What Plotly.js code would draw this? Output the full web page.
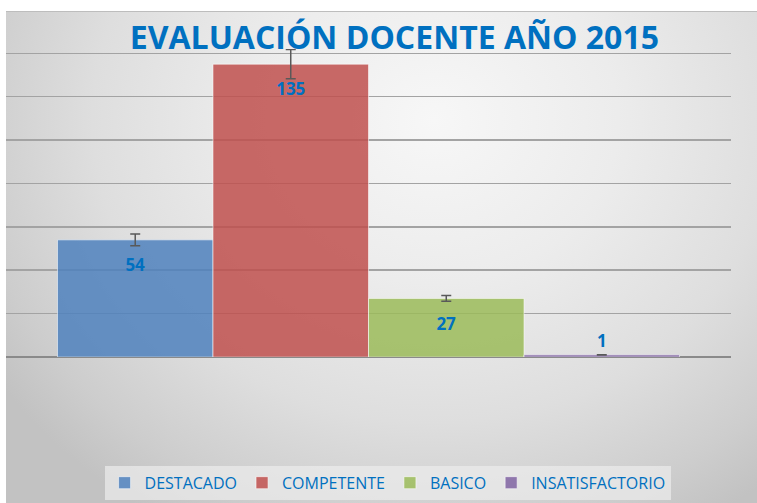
<!DOCTYPE html>
<html>
<head>
<meta charset="utf-8">
<script src="https://cdn.plot.ly/plotly-3.0.1.min.js"></script>
<style>
  html, body { margin: 0; padding: 0; background: #ffffff; }
  #wrap { position: relative; width: 757px; height: 503px; background: #ffffff; overflow: hidden; }
  #bg { position: absolute; left: 6px; top: 11px; right: 0; bottom: 0;
        border-top: 1px solid #bdbdbd;
        background: radial-gradient(ellipse 70% 95% at 57% 22%, #f7f7f7 0%, #ececec 35%, #dedede 65%, #cdcdcd 88%, #c2c2c2 100%); }
  #chart { position: absolute; left: 0; top: 0; width: 757px; height: 503px; }
</style>
</head>
<body>
<div id="wrap"><div id="bg"></div><div id="chart"></div></div>
<script>
const chartTitle = 'EVALUACIÓN DOCENTE AÑO 2015';
const group = ['2015'];
const categories = ['DESTACADO', 'COMPETENTE', 'BASICO', 'INSATISFACTORIO'];
const values = [54, 135, 27, 1];
const colors = ['rgba(79,129,189,0.85)', 'rgba(192,80,77,0.85)', 'rgba(155,187,89,0.85)', 'rgba(128,100,162,0.85)'];
const errorPercent = 5;

const labelBlue = '#0070C0';
const labelFont = { family: 'Open Sans', size: 17, color: labelBlue, weight: 'bold' };

const traces = categories.map((name, i) => ({
  type: 'bar',
  name: name,
  x: group,
  y: [values[i]],
  marker: { color: colors[i], line: { color: 'rgba(255,255,255,0.55)', width: 1 } },
  error_y: { type: 'percent', value: errorPercent, visible: true, color: '#595959', thickness: 1.5, width: 5 },
  text: [String(values[i])],
  texttemplate: '<span style="font-size:6px">\u00a0</span><br>%{text}',
  textposition: 'auto',
  insidetextanchor: 'end',
  constraintext: 'none',
  textfont: labelFont,
  insidetextfont: labelFont,
  outsidetextfont: labelFont,
  cliponaxis: false,
  hoverinfo: 'name+y'
}));

const layout = {
  width: 757,
  height: 503,
  margin: { l: 6, r: 26, t: 49, b: 146, pad: 0 },
  paper_bgcolor: 'rgba(0,0,0,0)',
  plot_bgcolor: 'rgba(0,0,0,0)',
  title: {
    text: '<b>' + chartTitle + '</b>',
    font: { family: 'Open Sans', size: 32, color: labelBlue },
    x: 0.521, xanchor: 'center', xref: 'container',
    y: 0.925, yanchor: 'middle', yref: 'container'
  },
  barmode: 'group',
  bargap: 0.142,
  bargroupgap: 0,
  xaxis: { showticklabels: false, showgrid: false, zeroline: false, showline: false, ticks: '' },
  yaxis: {
    range: [0, 142], tick0: 0, dtick: 20,
    showticklabels: false, ticks: '',
    showgrid: true, gridcolor: '#a3a3a3', gridwidth: 1.5,
    zeroline: true, zerolinecolor: '#8a8a8a', zerolinewidth: 1.5,
    showline: false
  },
  showlegend: true,
  legend: {
    orientation: 'h',
    xref: 'container', yref: 'container',
    x: 0.512, xanchor: 'center',
    y: 0.074, yanchor: 'top',
    bgcolor: 'rgba(236,236,236,0.7)',
    font: { family: 'Open Sans', size: 16, color: labelBlue },
    itemwidth: 30,
    traceorder: 'normal'
  }
};

Plotly.newPlot('chart', traces, layout, { displayModeBar: false, staticPlot: true });
</script>
</body>
</html>
